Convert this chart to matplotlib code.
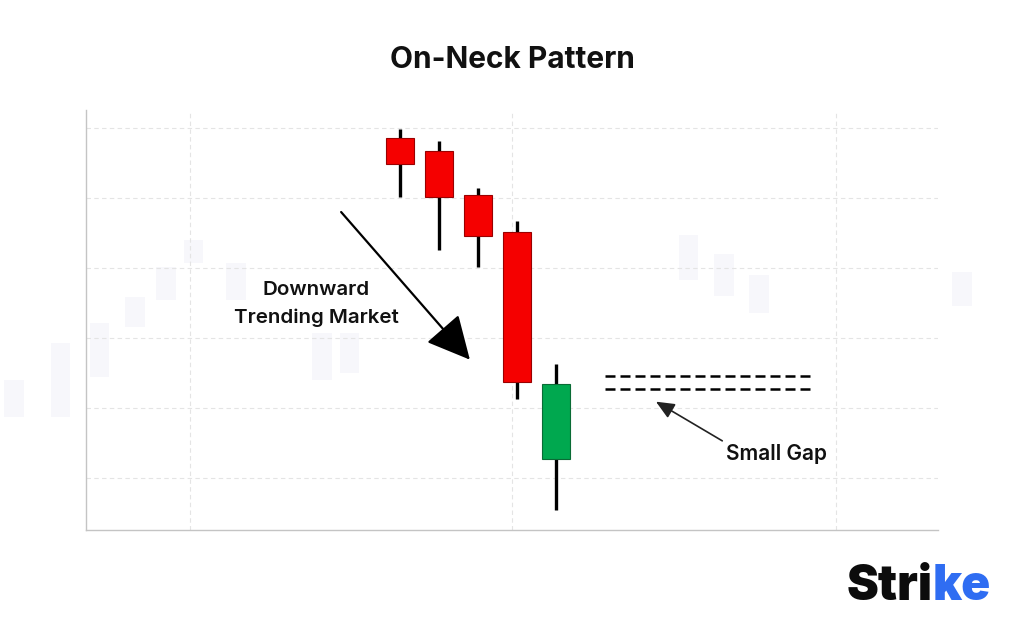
import matplotlib.pyplot as plt
from matplotlib.patches import Rectangle

# main pattern candles (index, open, high, low, close)
candle_x = [1, 2, 3, 4, 5]
opens = [5.86, 5.67, 5.04, 4.51, 1.27]
highs = [5.99, 5.81, 5.14, 4.67, 2.63]
lows = [5.01, 4.26, 4.01, 2.13, 0.54]
closes = [5.49, 5.01, 4.46, 2.37, 2.34]

# faint watermark candles in the background (x, top, bottom)
ghost_x = [-8.9, -7.7, -6.7, -5.8, -5.0, -4.3, -3.2, -1.0, -0.3, 8.4, 9.3, 10.2, 15.4]
ghost_top = [2.40, 2.93, 3.21, 3.59, 4.01, 4.40, 4.07, 3.07, 3.07, 4.47, 4.20, 3.90, 3.95]
ghost_bot = [1.87, 1.87, 2.44, 3.16, 3.54, 4.07, 3.54, 2.40, 2.50, 3.83, 3.60, 3.35, 3.45]

# gap lines and grid
gap_levels = [2.46, 2.27]
gap_span = [6.26, 11.51]
grid_x = [-4.39, 3.87, 12.18]
grid_y = [1, 2, 3, 4, 5, 6]

RED = "#f50000"
GREEN = "#00a84f"
BODY_W = 0.72

fig = plt.figure(figsize=(10.24, 6.4), dpi=100)
fig.patch.set_facecolor("white")
ax = fig.add_axes([0.084, 0.172, 0.832, 0.656])
ax.set_xlim(-7.05, 14.79)
ax.set_ylim(0.257, 6.257)

for s in ["top", "right"]:
    ax.spines[s].set_visible(False)
for s in ["left", "bottom"]:
    ax.spines[s].set_color("#c4c4c4")
    ax.spines[s].set_linewidth(1.0)
ax.set_xticks(grid_x)
ax.set_yticks(grid_y)
ax.tick_params(length=0, labelbottom=False, labelleft=False)
ax.grid(True, color="#e4e4e4", linestyle=(0, (4, 3)), linewidth=0.8)
ax.set_axisbelow(True)

for gx, gt, gb in zip(ghost_x, ghost_top, ghost_bot):
    ax.add_patch(Rectangle((gx - 0.25, gb), 0.5, gt - gb, facecolor="#f7f7fb",
                           edgecolor="none", zorder=0.5, clip_on=False))

for x, o, h, l, c in zip(candle_x, opens, highs, lows, closes):
    color = GREEN if c > o else RED
    edge = "#0a6b35" if c > o else "#9a0000"
    ax.plot([x, x], [l, h], color="black", lw=2.4, solid_capstyle="butt", zorder=2)
    ax.add_patch(Rectangle((x - BODY_W / 2, min(o, c)), BODY_W, abs(c - o),
                           facecolor=color, edgecolor=edge, lw=0.8, zorder=3))

for lvl in gap_levels:
    ax.plot(gap_span, [lvl, lvl], color="black", lw=1.8, linestyle=(0, (4, 2)), zorder=3)

ax.annotate("", xy=(2.79, 2.69), xytext=(-0.51, 4.80),
            arrowprops=dict(arrowstyle="-|>,head_length=0.9,head_width=0.45",
                            color="black", lw=1.6, mutation_scale=30,
                            shrinkA=0, shrinkB=0), zorder=4)
ax.annotate("", xy=(7.56, 2.09), xytext=(9.26, 1.53),
            arrowprops=dict(arrowstyle="-|>,head_length=0.8,head_width=0.35",
                            color="#222222", lw=1.2, mutation_scale=14,
                            shrinkA=0, shrinkB=0), zorder=4)

label_font = dict(family=["Inter", "DejaVu Sans"], fontweight="semibold", color="#111111")
ax.text(-1.15, 3.48, "Downward\nTrending Market", ha="center", va="center",
        fontsize=14.8, linespacing=1.65, **label_font)
ax.text(10.64, 1.34, "Small Gap", ha="center", va="center", fontsize=15, **label_font)

fig.text(0.5, 0.906, "On-Neck Pattern", ha="center", va="center", fontsize=21.5,
         family=["Inter", "DejaVu Sans"], fontweight="bold", color="#111111")

# brand mark
logo_font = dict(family=["Inter", "DejaVu Sans"], fontweight="black", fontsize=34.5,
                 va="center")
t = fig.text(0.827, 0.083, "Stri", color="#0c0c0c", ha="left", **logo_font)
fig.canvas.draw()
bb = t.get_window_extent()
fig.text(bb.x1 / fig.bbox.width, 0.083, "ke", color="#2f6df2", ha="left", **logo_font)

fig.savefig("out.png", dpi=100, facecolor="white")
